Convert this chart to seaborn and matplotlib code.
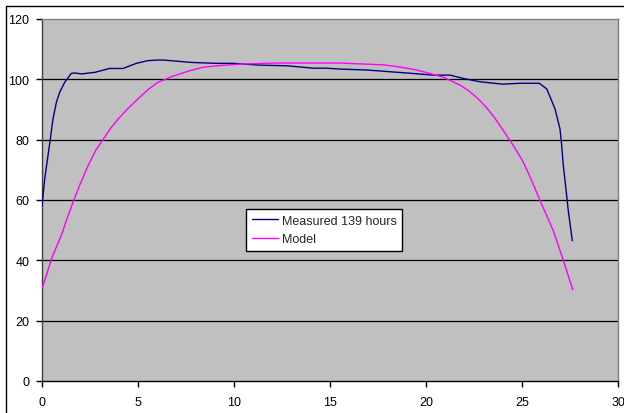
import matplotlib
matplotlib.use("Agg")
import matplotlib.pyplot as plt
import seaborn as sns
import pandas as pd
from matplotlib.patches import Rectangle

# Data
meas_x = [0, 0.14, 0.43, 0.57, 0.75, 0.92, 1.18, 1.53, 1.70, 2.05, 2.74, 3.52, 4.22, 4.91,
          5.52, 6.04, 6.32, 7.8, 9.1, 9.96, 11.35, 12.74, 14.13, 14.83, 15.52, 16.9, 19.0,
          20.38, 21.25, 21.94, 22.8, 24.0, 24.9, 25.9, 26.29, 26.72, 26.98, 27.07, 27.15,
          27.24, 27.41, 27.62]
meas_y = [58, 67, 80, 86.8, 92.4, 95.7, 99, 102, 102.1, 101.8, 102.3, 103.6, 103.6, 105.3,
          106.2, 106.4, 106.4, 105.6, 105.3, 105.3, 104.7, 104.5, 103.7, 103.7, 103.4, 103.1,
          102.1, 101.4, 101.4, 100.3, 99.2, 98.4, 98.7, 98.7, 96.8, 90.2, 83.5, 78, 71.5,
          66.5, 56.5, 46.5]

model_x = [0, 0.25, 0.49, 0.75, 1.0, 1.3, 1.61, 2.0, 2.4, 2.8, 3.26, 3.6, 3.96, 4.5, 5.0,
           5.5, 6.04, 6.8, 7.71, 8.4, 9.1, 10.49, 12.2, 15.5, 17.8, 18.4, 19.0, 19.5, 20.0,
           20.9, 21.3, 21.77, 22.2, 22.64, 23.1, 23.5, 23.9, 24.38, 24.7, 25.07, 25.5, 25.94,
           26.3, 26.63, 27.1, 27.64]
model_y = [30.7, 35.5, 40.4, 44.5, 48.2, 53.8, 59.2, 65.5, 71.4, 76.5, 80.8, 84, 86.8, 90.5,
           93.5, 96.5, 99, 101, 102.9, 104, 104.5, 105.1, 105.4, 105.4, 104.8, 104.3, 103.7,
           103.1, 102.3, 100.7, 99.5, 98.1, 96.3, 94, 91, 87.9, 84.2, 79.7, 76.5, 72.5, 66.5,
           59.8, 54.6, 49.8, 41, 30.3]

series_names = ["Measured 139 hours", "Model"]
x_ticks = [0, 5, 10, 15, 20, 25, 30]
y_ticks = [0, 20, 40, 60, 80, 100, 120]

sns.set_style("white")
plt.rcParams["font.family"] = ["Liberation Sans", "DejaVu Sans"]

fig = plt.figure(figsize=(6.24, 4.14), dpi=100)
ax = fig.add_axes([42 / 624, 32 / 414, 576 / 624, 362 / 414])
ax.set_facecolor("#C0C0C0")

# outer chart border
fig.patches.append(Rectangle((6 / 624, -0.1), 1.2, (414 - 7) / 414 + 0.1,
                             transform=fig.transFigure, fill=False,
                             edgecolor="black", linewidth=1.0, zorder=0))

for yv in y_ticks[1:-1]:
    ax.axhline(yv, color="black", linewidth=0.9, zorder=1)

df_m = pd.DataFrame({"x": meas_x, "y": meas_y})
df_p = pd.DataFrame({"x": model_x, "y": model_y})
sns.lineplot(data=df_m, x="x", y="y", ax=ax, color="#000080", linewidth=1.0,
             sort=False, label=series_names[0], zorder=3)
sns.lineplot(data=df_p, x="x", y="y", ax=ax, color="#FF00FF", linewidth=1.0,
             sort=False, label=series_names[1], zorder=3)

ax.set_xlim(0, 30)
ax.set_ylim(0, 120)
ax.set_xticks(x_ticks)
ax.set_yticks(y_ticks)
ax.set_xlabel("")
ax.set_ylabel("")
ax.tick_params(axis="both", direction="out", length=4, width=1, labelsize=9,
               colors="black", bottom=True, left=True)
ax.tick_params(axis="y", pad=5)
ax.tick_params(axis="x", pad=7)

for s in ["top", "right"]:
    ax.spines[s].set_color("#808080")
    ax.spines[s].set_linewidth(1)
ax.spines["left"].set_color("#404040")
ax.spines["bottom"].set_color("black")
for s in ["left", "bottom"]:
    ax.spines[s].set_linewidth(1)

leg = ax.legend(loc="lower left", bbox_to_anchor=(0.354, 0.36), borderaxespad=0,
                frameon=True, fancybox=False, framealpha=1, facecolor="white",
                edgecolor="black", fontsize=9, handlelength=2.1, handletextpad=0.3,
                labelspacing=0.5, borderpad=0.45)
leg.get_frame().set_linewidth(1)

fig.savefig("out.png", dpi=100)
